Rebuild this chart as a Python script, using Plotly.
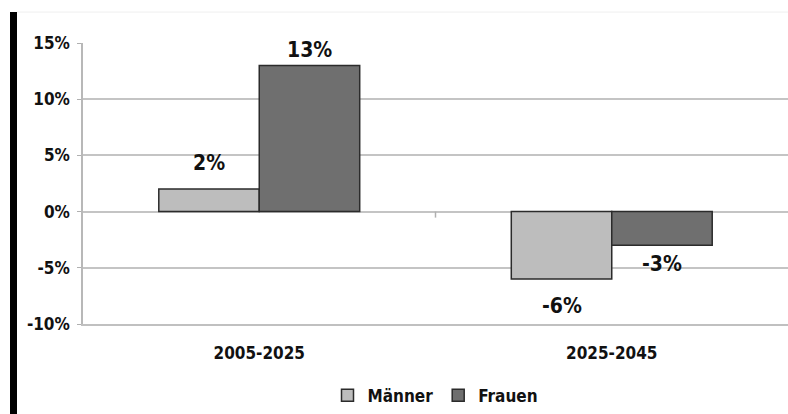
import plotly.graph_objects as go

# Bevölkerungsveränderung nach Geschlecht, zwei Zeiträume
zeitraeume = ["2005-2025", "2025-2045"]
maenner = [2, -6]
frauen = [13, -3]
y_ticks = [-10, -5, 0, 5, 10, 15]

FONT = "Liberation Sans Narrow, DejaVu Sans Condensed, Arial Narrow, Liberation Sans, sans-serif"
BAR_LINE = dict(color="#2b2b2b", width=1.5)

fig = go.Figure()
fig.add_trace(go.Bar(name="Männer", x=zeitraeume, y=maenner,
                     marker=dict(color="#bdbdbd", line=BAR_LINE)))
fig.add_trace(go.Bar(name="Frauen", x=zeitraeume, y=frauen,
                     marker=dict(color="#6f6f6f", line=BAR_LINE)))

# Wertbeschriftungen über bzw. unter den Balken
label_shift = {"Männer": [26, -27], "Frauen": [15, -19]}
for sign, (name, werte) in zip((-1, 1), (("Männer", maenner), ("Frauen", frauen))):
    for i, (kat, wert) in enumerate(zip(zeitraeume, werte)):
        fig.add_annotation(x=kat, y=wert, text=f"{wert}%", showarrow=False,
                           xshift=sign * 50, yshift=label_shift[name][i],
                           font=dict(family=FONT, size=21, color="#111", weight="bold"))

# Teilstrich zwischen den Kategorien auf der Nulllinie
fig.add_shape(type="line", xref="x", yref="y", x0=0.5, x1=0.5,
              ysizemode="pixel", yanchor=0, y0=0, y1=-6,
              line=dict(color="#b0b0b0", width=1.5))
# schwarzer Balken am linken Rand und feine obere Linie
fig.add_shape(type="rect", xref="paper", yref="paper", xsizemode="pixel", xanchor=0,
              x0=-73, x1=-66, y0=-0.32, y1=1.11,
              fillcolor="#000", line=dict(width=0))
fig.add_shape(type="line", xref="paper", yref="paper", xsizemode="pixel", xanchor=0,
              x0=-66, x1=720, y0=1.11, y1=1.11,
              line=dict(color="#efefef", width=1))

fig.update_layout(
    width=788, height=414,
    margin=dict(l=83, r=0, t=43, b=88),
    paper_bgcolor="white", plot_bgcolor="white",
    barmode="group", bargap=0.43, bargroupgap=0,
    font=dict(family=FONT, size=17, color="#111", weight="bold"),
    showlegend=True,
    legend=dict(orientation="h", x=0.5, xanchor="center", y=-0.255, yanchor="middle",
                font=dict(family=FONT, size=17, color="#111", weight="bold"),
                itemwidth=30, tracegroupgap=0),
    xaxis=dict(showgrid=False, showline=True, linecolor="#c0c0c0", linewidth=2,
               tickfont=dict(family=FONT, size=17, color="#111", weight="bold"),
               ticklabelstandoff=13, ticks=""),
    yaxis=dict(range=[-10, 15], tickvals=y_ticks, ticktext=[f"{v}%" for v in y_ticks],
               showgrid=True, gridcolor="#c4c4c4", gridwidth=2,
               zeroline=True, zerolinecolor="#c4c4c4", zerolinewidth=2,
               showline=True, linecolor="#b8b8b8", linewidth=1.5,
               ticks="outside", ticklen=4, tickcolor="#b0b0b0",
               tickfont=dict(family=FONT, size=17, color="#111", weight="bold"),
               ticklabelstandoff=4),
)

fig.write_html("out.html")
